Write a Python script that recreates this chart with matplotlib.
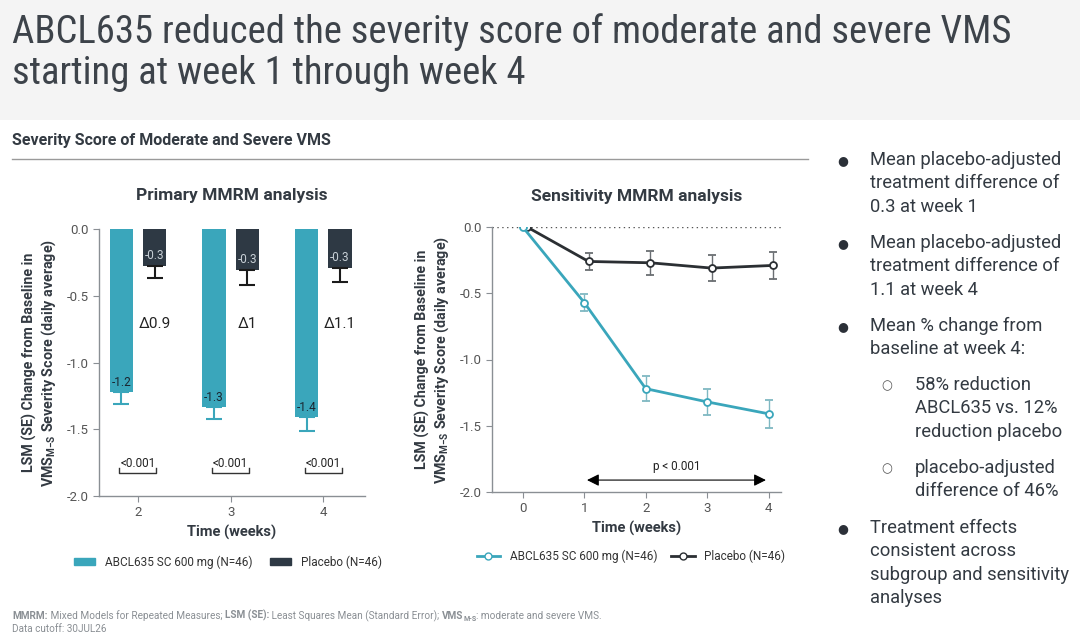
import matplotlib.pyplot as plt
import matplotlib.patches as mpatches
from matplotlib import font_manager as fm
from matplotlib.lines import Line2D
import numpy as np

plt.rcParams["font.family"] = ["Roboto", "DejaVu Sans"]
plt.rcParams["mathtext.default"] = "regular"

# data
weeks_bar = [2, 3, 4]
abcl_bar = [-1.22, -1.33, -1.41]
abcl_bar_se = [0.09, 0.09, 0.10]
pbo_bar = [-0.28, -0.31, -0.29]
pbo_bar_se = [0.09, 0.11, 0.11]
abcl_bar_labels = ["-1.2", "-1.3", "-1.4"]
pbo_bar_labels = ["-0.3", "-0.3", "-0.3"]
delta_labels = ["\u03940.9", "\u03941", "\u03941.1"]
p_labels = ["<0.001", "<0.001", "<0.001"]

weeks_line = [0, 1, 2, 3, 4]
abcl_line = [0.0, -0.57, -1.22, -1.32, -1.41]
abcl_line_se = [0.0, 0.065, 0.095, 0.10, 0.105]
pbo_line = [0.0, -0.26, -0.27, -0.31, -0.29]
pbo_line_se = [0.0, 0.065, 0.09, 0.10, 0.105]

bullets = [
    (0, "Mean placebo-adjusted\ntreatment difference of\n0.3 at week 1"),
    (0, "Mean placebo-adjusted\ntreatment difference of\n1.1 at week 4"),
    (0, "Mean % change from\nbaseline at week 4:"),
    (1, "58% reduction\nABCL635 vs. 12%\nreduction placebo"),
    (1, "placebo-adjusted\ndifference of 46%"),
    (0, "Treatment effects\nconsistent across\nsubgroup and sensitivity\nanalyses"),
]
bullet_tops = [151, 234, 317, 376, 459, 519]

TEAL = "#3aa6bb"
DARK = "#2e3944"
TXT = "#333a42"
GRID = "#8a8f94"

W, H = 1080, 637
fig = plt.figure(figsize=(W / 100, H / 100), dpi=100)


def fx(px):
    return px / W


def fy(py):
    return 1 - py / H


# pick a narrow face for the headline if one is installed
title_fp = None
for pref in ("roboto condensed", "liberation sans narrow", "dejavu sans condensed", "condensed", "narrow"):
    for f in fm.fontManager.ttflist:
        nm = (f.name + " " + f.fname).lower().replace("-", " ").replace("_", " ")
        if pref in nm.replace("sanscondensed", "sans condensed") and f.style == "normal" \
                and f.weight in (300, 400, "light", "normal", "regular", "book") and "mono" not in nm \
                and "bold" not in nm and "oblique" not in nm:
            title_fp = fm.FontProperties(fname=f.fname)
            break
    if title_fp is not None:
        break
if title_fp is None:
    title_fp = fm.FontProperties(family="Roboto", weight="light")

# header band
fig.patches.append(mpatches.Rectangle((0, fy(120)), 1, 120 / H, transform=fig.transFigure,
                                      facecolor="#f4f4f4", edgecolor="none", zorder=0))
title_fp.set_size(26)
head = fig.text(fx(12), fy(32), "ABCL635 reduced the severity score of moderate and severe VMS",
                fontproperties=title_fp, color="#3d434a", va="center", ha="left")
rend = fig.canvas.get_renderer()
w0 = head.get_window_extent(renderer=rend).width
size = min(28, 26 * 998 / w0)
title_fp.set_size(size)
head.set_fontproperties(title_fp)
fig.text(fx(12), fy(73), "starting at week 1 through week 4", fontproperties=title_fp,
         color="#3d434a", va="center", ha="left")

fig.text(fx(12), fy(140), "Severity Score of Moderate and Severe VMS", fontsize=11.5, weight="bold",
         color=TXT, va="center")
fig.add_artist(Line2D([fx(12), fx(808)], [fy(159), fy(159)], color="#9a9a9a", lw=1))

# ---- left: bar chart ----
ax1 = fig.add_axes([fx(99), fy(496), fx(266), (496 - 229) / H])
off = 0.18
bw = 0.25
x = np.array(weeks_bar, dtype=float)
ax1.bar(x - off, abcl_bar, bw, color=TEAL, zorder=2)
ax1.bar(x + off, pbo_bar, bw, color=DARK, zorder=2)
ax1.errorbar(x - off, abcl_bar, yerr=[abcl_bar_se, np.zeros(3)], fmt="none", ecolor=TEAL,
             elinewidth=1.5, capsize=6, capthick=1.5, zorder=3)
ax1.errorbar(x + off, pbo_bar, yerr=[pbo_bar_se, np.zeros(3)], fmt="none", ecolor="#1b1b1b",
             elinewidth=1.5, capsize=6, capthick=1.5, zorder=3)
for i in range(3):
    ax1.text(x[i] - off, abcl_bar[i] + 0.07, abcl_bar_labels[i], ha="center", va="center",
             fontsize=8.5, color="#1a2630", zorder=4)
    ax1.text(x[i] + off, pbo_bar[i] + 0.08, pbo_bar_labels[i], ha="center", va="center",
             fontsize=8.5, color="#c8d0d6", zorder=4)
    ax1.text(x[i] + off, -0.71, delta_labels[i], ha="center", va="center", fontsize=11, color="#222")
    ax1.text(x[i], -1.76, p_labels[i], ha="center", va="center", fontsize=8.5, color="#222")
    ax1.plot([x[i] - off - 0.02, x[i] - off - 0.02, x[i] + off + 0.02, x[i] + off + 0.02],
             [-1.79, -1.83, -1.83, -1.79], color="#333", lw=1)
ax1.set_xlim(1.58, 4.45)
ax1.set_ylim(-2.0, 0.0)
ax1.set_xticks(weeks_bar)
ax1.set_yticks([0, -0.5, -1.0, -1.5, -2.0])
ax1.set_yticklabels(["0.0", "-0.5", "-1.0", "-1.5", "-2.0"])
ax1.set_title("Primary MMRM analysis", fontsize=12.5, weight="bold", color=TXT, pad=21)
ax1.set_xlabel("Time (weeks)", fontsize=10.5, weight="bold", color=TXT, labelpad=4)
ax1.set_ylabel("LSM (SE) Change from Baseline in\nVMS$_{M{-}S}$ Severity Score (daily average)",
               fontsize=10.3, weight="bold", color=TXT, labelpad=6)

# ---- right: line chart ----
ax2 = fig.add_axes([fx(492), fy(492), fx(289), (492 - 227) / H])
ax2.axhline(0, color="#555", lw=1, ls=(0, (1, 2.5)), zorder=1)
xl = np.array(weeks_line, dtype=float)
ax2.errorbar(xl + 0.07, pbo_line, yerr=pbo_line_se, color="#2b2f33", lw=2, marker="o", ms=5,
             mfc="white", mec="#2b2f33", mew=1.3, ecolor="#6a6e72", elinewidth=1, capsize=3, zorder=3)
ax2.errorbar(xl, abcl_line, yerr=abcl_line_se, color=TEAL, lw=2, marker="o", ms=5,
             mfc="white", mec=TEAL, mew=1.3, ecolor="#7fb8c2", elinewidth=1, capsize=3, zorder=4)
ax2.annotate("", xy=(1, -1.91), xytext=(4, -1.91),
             arrowprops=dict(arrowstyle="<|-|>", color="black", lw=0.8, mutation_scale=18))
ax2.text(2.5, -1.81, "p < 0.001", ha="center", va="center", fontsize=8.5, color="#222")
ax2.set_xlim(-0.5, 4.2)
ax2.set_ylim(-2.0, 0.0)
ax2.set_xticks(weeks_line)
ax2.set_yticks([0, -0.5, -1.0, -1.5, -2.0])
ax2.set_yticklabels(["0.0", "-0.5", "-1.0", "-1.5", "-2.0"])
ax2.set_title("Sensitivity MMRM analysis", fontsize=12.5, weight="bold", color=TXT, pad=19)
ax2.set_xlabel("Time (weeks)", fontsize=10.5, weight="bold", color=TXT, labelpad=4)
ax2.set_ylabel("LSM (SE) Change from Baseline in\nVMS$_{M{-}S}$ Severity Score (daily average)",
               fontsize=10.3, weight="bold", color=TXT, labelpad=6)

for ax in (ax1, ax2):
    for s in ("top", "right"):
        ax.spines[s].set_visible(False)
    for s in ("left", "bottom"):
        ax.spines[s].set_color(GRID)
        ax.spines[s].set_linewidth(1)
    ax.tick_params(colors=GRID, labelcolor="#555", labelsize=9.5, length=4)

# legends
h1 = [mpatches.Patch(color=TEAL), mpatches.Patch(color=DARK)]
fig.legend(h1, ["ABCL635 SC 600 mg (N=46)", "Placebo (N=46)"], loc="center",
           bbox_to_anchor=(fx(228), fy(562)), ncol=2, frameon=False, fontsize=8.5,
           handlelength=1.8, handleheight=0.6, columnspacing=1.5, labelcolor="#333")
h2 = [Line2D([], [], color=TEAL, lw=2, marker="o", ms=5, mfc="white", mec=TEAL),
      Line2D([], [], color="#2b2f33", lw=2, marker="o", ms=5, mfc="white", mec="#2b2f33")]
fig.legend(h2, ["ABCL635 SC 600 mg (N=46)", "Placebo (N=46)"], loc="center",
           bbox_to_anchor=(fx(631), fy(556)), ncol=2, frameon=False, fontsize=8.5,
           handlelength=2.0, columnspacing=1.2, labelcolor="#333")

# bullets on the right
for (lvl, txt), top in zip(bullets, bullet_tops):
    if lvl == 0:
        fig.text(fx(843), fy(top + 10), "\u25cf", fontsize=9, color="#2b3038", ha="center", va="center")
        fig.text(fx(870), fy(top), txt, fontsize=13.2, color=TXT, va="top", linespacing=1.38)
    else:
        fig.text(fx(887), fy(top + 10), "\u25cb", fontsize=9, color="#555", ha="center", va="center")
        fig.text(fx(915), fy(top), txt, fontsize=13.2, color=TXT, va="top", linespacing=1.38)


# footnote, written piece by piece so the bold runs stay in the same face
def put_runs(x0, y, runs):
    xpos = x0
    for s, kw in runs:
        dy = kw.pop("dy", 0)
        t = fig.text(fx(xpos), fy(y + dy), s, va="baseline", color="#8a8f94", **kw)
        xpos += t.get_window_extent(renderer=rend).width


put_runs(12, 619, [
    ("MMRM:", dict(fontsize=7.2, weight="bold")),
    (" Mixed Models for Repeated Measures; ", dict(fontsize=7.2)),
    ("LSM (SE):", dict(fontsize=7.2, weight="bold")),
    (" Least Squares Mean (Standard Error); ", dict(fontsize=7.2)),
    ("VMS", dict(fontsize=7.2, weight="bold")),
    ("M-S", dict(fontsize=5, weight="bold", dy=2)),
    (": moderate and severe VMS.", dict(fontsize=7.2)),
])
fig.text(fx(12), fy(629), "Data cutoff: 30JUL26", fontsize=7.2, color="#8a8f94", va="center")

fig.savefig("out.png", dpi=100)
